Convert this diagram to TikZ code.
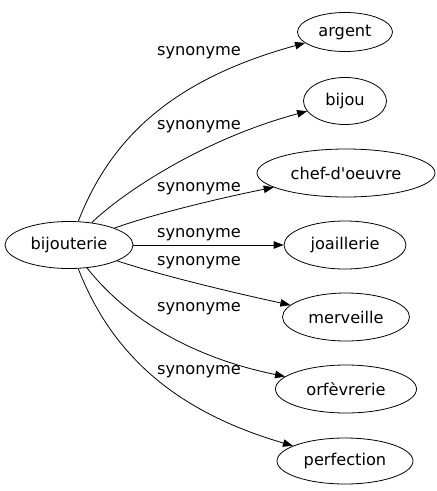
\documentclass[tikz,border=0pt]{standalone}
\usepackage{fontspec}
\setmainfont{DejaVu Sans}
\usetikzlibrary{arrows.meta,shapes.geometric}
\begin{document}
\begin{tikzpicture}[x=1pt,y=-1pt,
  word/.style={draw,ellipse,inner sep=0pt,line width=0.8pt,font=\fontsize{16.2}{18}\selectfont},
  rel/.style={line width=0.8pt,-{Triangle[length=10pt,width=7.5pt]}},
  lab/.style={font=\fontsize{16.2}{18}\selectfont,inner sep=0pt}]
\useasboundingbox (0,0) rectangle (437,491);
\node[word,minimum width=128pt,minimum height=47pt] (bij) at (69,245) {bijouterie};
\node[word,minimum width=95pt,minimum height=39pt] (arg) at (345,32) {argent};
\node[word,minimum width=83pt,minimum height=47pt] (bjo) at (345,101) {bijou};
\node[word,minimum width=178pt,minimum height=48pt] (chf) at (346,173) {chef-d\textquotesingle oeuvre};
\node[word,minimum width=122pt,minimum height=48pt] (joa) at (345,245) {joaillerie};
\node[word,minimum width=127pt,minimum height=48pt] (mer) at (346,317) {merveille};
\node[word,minimum width=141pt,minimum height=48pt] (orf) at (346,389) {orfèvrerie};
\node[word,minimum width=136pt,minimum height=46pt] (per) at (345,461) {perfection};
\draw[rel] (bij) .. controls (110,140) and (170,80) .. (arg);
\draw[rel] (bij) .. controls (120,195) and (200,140) .. (bjo);
\draw[rel] (bij) .. controls (150,215) and (220,198) .. (chf);
\draw[rel] (bij) -- (joa);
\draw[rel] (bij) .. controls (160,275) and (230,292) .. (mer);
\draw[rel] (bij) .. controls (120,310) and (180,355) .. (orf);
\draw[rel] (bij) .. controls (110,350) and (170,410) .. (per);
\node[lab] (l1) at (199,53) {synonyme};
\node[lab] (l2) at (199,127) {synonyme};
\node[lab] (l3) at (199,189) {synonyme};
\node[lab] (l4) at (199,235) {synonyme};
\node[lab] (l5) at (199,263) {synonyme};
\node[lab] (l6) at (199,309) {synonyme};
\node[lab] (l7) at (199,372) {synonyme};
\end{tikzpicture}
\end{document}
